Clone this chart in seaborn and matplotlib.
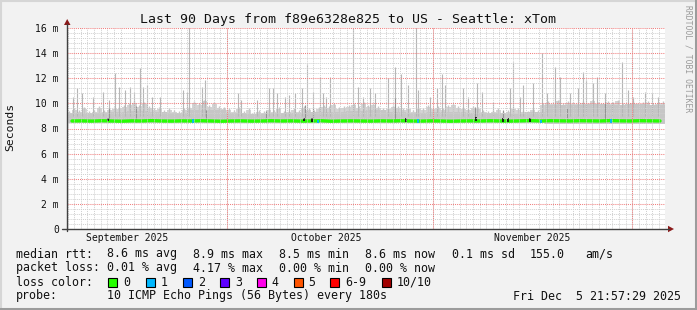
import numpy as np
import pandas as pd
import matplotlib
matplotlib.use("Agg")
import matplotlib.pyplot as plt
import seaborn as sns
from matplotlib.patches import Rectangle, Polygon
from matplotlib.lines import Line2D

W, H = 697, 310

# ---------------- data ----------------
title = "Last 90 Days from f89e6328e825 to US - Seattle: xTom"
ylabel = "Seconds"
ytick_vals = [0, 2, 4, 6, 8, 10, 12, 14, 16]
ytick_labels = ["0", "2 m", "4 m", "6 m", "8 m", "10 m", "12 m", "14 m", "16 m"]
# days since start (Sep 6 21:57:29)
month_starts = [24.085, 55.085, 85.085]          # Oct 1, Nov 1, Dec 1
month_label_pos = [9.085, 39.085, 70.085]        # 16th of each month
month_labels = ["September 2025", "October 2025", "November 2025"]

# upper edge of the light smoke "grass", one value per 0.75 day
smoke_hi = [9.4, 9.6, 9.5, 9.7, 9.4, 9.5, 9.8, 9.5, 9.6, 9.7,
            9.7, 9.9, 10.0, 10.2, 9.9, 10.1, 9.8, 9.6, 9.7, 9.5,
            9.6, 9.5, 9.4, 9.6, 9.8, 10.2, 10.0, 10.3, 9.9, 10.1,
            9.8, 9.7, 9.6, 9.5, 9.7, 9.4, 9.6, 9.3, 9.5, 9.4,
            9.6, 9.5, 9.7, 9.4, 9.5, 9.6, 9.5, 9.8, 9.6, 9.5,
            9.7, 9.9, 9.8, 10.0, 9.7, 9.8, 9.9, 10.0, 9.8, 10.1,
            9.9, 10.0, 9.8, 9.6, 9.7, 9.9, 9.8, 9.6, 9.7, 9.5,
            9.7, 9.6, 9.9, 9.7, 9.8, 9.6, 9.9, 10.0, 9.8, 9.7,
            9.6, 9.8, 9.7, 9.5, 9.4, 9.5, 9.6, 9.4, 9.5, 9.7,
            9.6, 9.5, 9.4, 9.6, 9.5, 10.0, 10.2, 10.1, 10.3, 10.0,
            10.2, 10.1, 10.1, 10.2, 10.0, 10.3, 10.1, 10.0, 10.2, 10.1,
            10.3, 10.0, 10.1, 10.2, 10.0, 10.1, 10.2, 10.0, 10.1, 10.2]

# dense smoke core, one value per 3 days
core_top = [9.2, 9.25, 9.3, 9.4, 9.3, 9.2, 9.5, 9.45, 9.2, 9.15,
            9.2, 9.25, 9.3, 9.35, 9.4, 9.45, 9.3, 9.2, 9.35, 9.3,
            9.25, 9.2, 9.15, 9.3, 9.85, 9.9, 9.95, 9.9, 9.95, 9.9]
core_bottom = [8.42, 8.43, 8.42, 8.41, 8.42, 8.43, 8.42, 8.42, 8.43, 8.42,
               8.42, 8.41, 8.42, 8.43, 8.42, 8.42, 8.41, 8.42, 8.42, 8.43,
               8.42, 8.42, 8.41, 8.42, 8.38, 8.37, 8.38, 8.37, 8.38, 8.38]

# isolated latency spikes
spike_day = [0.90, 1.51, 2.26, 3.91, 5.42, 6.32, 7.22, 7.83, 8.73, 9.48,
             10.08, 10.99, 11.44, 12.04, 12.79, 13.99, 17.46, 18.06, 18.36, 20.32,
             20.77, 25.74, 26.19, 28.60, 30.40, 31.01, 31.61, 32.81, 33.41, 34.32,
             35.36, 36.12, 37.03, 38.08, 38.53, 38.98, 39.58, 43.05, 43.81, 44.56,
             45.61, 46.36, 48.31, 49.37, 50.27, 51.32, 52.53, 52.83, 54.64, 55.69,
             56.44, 56.89, 59.60, 60.36, 61.71, 62.46, 64.12, 66.68, 67.13, 68.18,
             68.63, 70.14, 71.49, 72.25, 73.45, 74.20, 75.71, 76.91, 77.66, 78.12,
             79.17, 79.77, 80.98, 82.03, 83.53, 84.44, 85.19, 87.00, 88.05, 88.95]
spike_ms = [10.5, 11.2, 10.8, 10.5, 10.9, 10.3, 12.4, 11.3, 11.1, 11.3,
            10.9, 12.8, 11.3, 11.5, 10.5, 10.5, 11.1, 10.9, 16.5, 11.3,
            11.9, 10.8, 10.3, 10.3, 11.2, 11.2, 10.8, 10.5, 10.7, 10.8,
            11.2, 13.1, 10.9, 12.1, 10.8, 10.5, 12.1, 16.5, 11.3, 10.5,
            11.2, 10.8, 12.0, 12.9, 12.3, 11.5, 16.5, 11.1, 10.5, 11.2,
            12.3, 11.5, 11.2, 10.5, 11.6, 10.9, 10.1, 11.2, 13.3, 10.5,
            11.5, 11.6, 14.0, 10.8, 12.9, 12.1, 10.8, 11.2, 12.5, 11.9,
            11.6, 12.1, 10.8, 10.1, 13.3, 11.1, 10.5, 10.9, 10.8, 10.5]

# darker smoke streaks
dark_day = [6.32, 10.38, 20.97, 29.95, 35.81, 37.03, 49.37, 61.41, 65.62, 75.26, 80.98]
dark_top = [9.6, 9.8, 9.5, 9.4, 9.9, 9.6, 10.4, 9.7, 9.5, 9.6, 10.1]

# median rtt (ms), one value per 1.5 day
median_ms = [8.60, 8.61, 8.59, 8.62, 8.60, 8.58, 8.61, 8.60, 8.63, 8.60,
             8.59, 8.61, 8.60, 8.62, 8.60, 8.58, 8.60, 8.61, 8.59, 8.60,
             8.62, 8.60, 8.61, 8.59, 8.60, 8.62, 8.58, 8.60, 8.61, 8.60,
             8.59, 8.61, 8.60, 8.62, 8.60, 8.59, 8.61, 8.60, 8.58, 8.60,
             8.61, 8.60, 8.62, 8.60, 8.59, 8.61, 8.63, 8.60, 8.62, 8.61,
             8.60, 8.62, 8.61, 8.60, 8.63, 8.61, 8.60, 8.62, 8.61, 8.60]

# median points with special colours
mark_day = [6.17, 35.66, 36.87, 51.02, 61.56, 65.62, 66.38, 69.69, 18.96, 37.78, 52.83, 71.34, 81.88]
mark_ms = [8.72, 8.72, 8.70, 8.68, 8.74, 8.70, 8.66, 8.70, 8.58, 8.55, 8.57, 8.56, 8.58]
mark_col = ["#101010", "#101010", "#101010", "#101010", "#101010", "#101010", "#101010",
            "#101010", "#00b8ff", "#00b8ff", "#00b8ff", "#00b8ff", "#00b8ff"]

loss_labels = ["0", "1", "2", "3", "4", "5", "6-9", "10/10"]
loss_colors = ["#26ff00", "#00b8ff", "#0059ff", "#5e00ff", "#ff00ea", "#ff5500", "#ff0000", "#a10000"]

stats_rtt = ["8.6 ms avg", "8.9 ms max", "8.5 ms min", "8.6 ms now", "0.1 ms sd", "155.0", "am/s"]
stats_loss = ["0.01 % avg", "4.17 % max", "0.00 % min", "0.00 % now"]
probe_text = "10 ICMP Echo Pings (56 Bytes) every 180s"
date_text = "Fri Dec  5 21:57:29 2025"
watermark = "RRDTOOL / TOBI OETIKER"

# ---------------- styling ----------------
sns.set_theme(style="white")
plt.rcParams["font.family"] = ["DejaVu Sans Mono", "DejaVu Sans"]

BG = "#f2f2f2"
fig = plt.figure(figsize=(W / 100, H / 100), dpi=100, facecolor=BG)
ax = fig.add_axes([67 / W, 81 / H, 598 / W, 201 / H])
ax.set_facecolor("white")
ax.set_xlim(0, 90)
ax.set_ylim(0, 16)

# grass (light outer smoke) as steps
bin_edges = np.arange(len(smoke_hi) + 1) * 0.75
ax.stairs(np.array(smoke_hi) - 0.15, bin_edges, baseline=8.9, fill=True,
          color="#d4d4d4", lw=0, zorder=0.9)
bin_c = np.arange(len(smoke_hi)) * 0.75 + 0.375
ax.vlines(bin_c, 8.9, smoke_hi, colors="#c6c6c6", lw=1.0, zorder=1)
# smoke core
core_edges = np.arange(0, 90.01, 3.0)
for i in range(len(core_top)):
    ax.fill_between([core_edges[i], core_edges[i + 1]], core_bottom[i], core_top[i],
                    color="#c6c6c6", lw=0, zorder=1)
# spikes
ax.vlines(spike_day, 9.0, spike_ms, colors="#b6b6b6", lw=0.8, zorder=1.2)
ax.vlines(dark_day, 8.5, dark_top, colors="#939393", lw=0.8, zorder=1.3)

# median line
med_df = pd.DataFrame({"day": np.arange(len(median_ms)) * 1.5 + 0.75, "ms": median_ms})
sns.lineplot(data=med_df, x="day", y="ms", ax=ax, color="#26ff00", lw=2.4, zorder=2)
ax.vlines(mark_day, np.array(mark_ms) - 0.15, np.array(mark_ms) + 0.15, colors=mark_col,
          lw=1.3, zorder=2.2)

# grid
ax.set_yticks(ytick_vals)
ax.set_yticklabels(ytick_labels)
ax.set_yticks(np.arange(0, 16.01, 0.4), minor=True)
ax.set_xticks(month_label_pos)
ax.set_xticklabels(month_labels)
ax.set_xticks(np.arange(0.085, 90, 1.0), minor=True)
ax.set_axisbelow(False)
ax.yaxis.grid(True, which="minor", color="#d0d0d0", linestyle=(0, (1, 1)), lw=0.7)
ax.xaxis.grid(True, which="minor", color="#d0d0d0", linestyle=(0, (1, 1)), lw=0.7)
ax.yaxis.grid(True, which="major", color="#f08080", linestyle=(0, (1, 1)), lw=0.75)
ax.xaxis.grid(False, which="major")
for m in month_starts:
    ax.axvline(m, color="#f08080", linestyle=(0, (1, 1)), lw=0.75, zorder=2.6)
for s in ax.spines.values():
    s.set_visible(False)
ax.tick_params(axis="y", which="both", length=0, pad=5.8, labelsize=7, colors="#111111")
ax.tick_params(axis="x", which="both", length=0, pad=2.6, labelsize=7, colors="#111111")
ax.set_xlabel("")
ax.set_ylabel("")

def fx(x):
    return x / W

def fy(y):
    return 1 - y / H

# axes lines and arrows
fig.add_artist(Line2D([fx(67), fx(67)], [fy(231), fy(24)], color="#404040", lw=1.0))
fig.add_artist(Line2D([fx(62), fx(669)], [fy(229), fy(229)], color="#404040", lw=1.0))
fig.add_artist(Polygon([[fx(64), fy(25)], [fx(70.5), fy(25)], [fx(67.2), fy(19)]],
                       closed=True, color="#8b1a1a", lw=0))
fig.add_artist(Polygon([[fx(668), fy(225.8)], [fx(668), fy(232.2)], [fx(674), fy(229)]],
                       closed=True, color="#8b1a1a", lw=0))

# bevel frame
fig.add_artist(Line2D([0, 1], [fy(0.5), fy(0.5)], color="#d6d6d6", lw=1.5))
fig.add_artist(Line2D([fx(0.5), fx(0.5)], [0, 1], color="#d6d6d6", lw=1.5))
fig.add_artist(Line2D([0, 1], [fy(308.5), fy(308.5)], color="#9c9c9c", lw=2.2))
fig.add_artist(Line2D([fx(695.5), fx(695.5)], [0, 1], color="#9c9c9c", lw=2.2))

# texts
fig.text(fx(348), fy(19), title, ha="center", va="center", fontsize=9.5, color="#111111")
fig.text(fx(10), fy(127), ylabel, ha="center", va="center", rotation=90, fontsize=8.2,
         color="#111111")
fig.text(fx(688), fy(59), watermark, ha="center", va="center", rotation=270, fontsize=5.8,
         color="#9a9a9a")

FS = 8.4
TXT = "#111111"
rows = [254, 268, 282, 296]
fig.text(fx(16), fy(rows[0]), "median rtt:", ha="left", va="center", fontsize=FS, color=TXT)
for xpos, s in zip([107, 193, 279, 365, 452, 530, 585], stats_rtt):
    fig.text(fx(xpos), fy(rows[0]), s, ha="left", va="center", fontsize=FS, color=TXT)
fig.text(fx(16), fy(rows[1]), "packet loss:", ha="left", va="center", fontsize=FS, color=TXT)
for xpos, s in zip([107, 193, 279, 365], stats_loss):
    fig.text(fx(xpos), fy(rows[1]), s, ha="left", va="center", fontsize=FS, color=TXT)
fig.text(fx(16), fy(rows[2]), "loss color:", ha="left", va="center", fontsize=FS, color=TXT)
box_x = [108, 145.5, 183, 220, 256.5, 293.5, 330, 382]
for bx, lab, col in zip(box_x, loss_labels, loss_colors):
    fig.add_artist(Rectangle((fx(bx), fy(286.5)), 9 / W, 9 / H, facecolor=col,
                             edgecolor="black", lw=0.8))
    fig.text(fx(bx + 15), fy(rows[2]), lab, ha="left", va="center", fontsize=FS, color=TXT)
fig.text(fx(16), fy(rows[3]), "probe:", ha="left", va="center", fontsize=FS, color=TXT)
fig.text(fx(107), fy(rows[3]), probe_text, ha="left", va="center", fontsize=FS, color=TXT)
fig.text(fx(681), fy(rows[3]), date_text, ha="right", va="center", fontsize=FS, color=TXT)

fig.savefig("out.png", dpi=100, facecolor=BG)
